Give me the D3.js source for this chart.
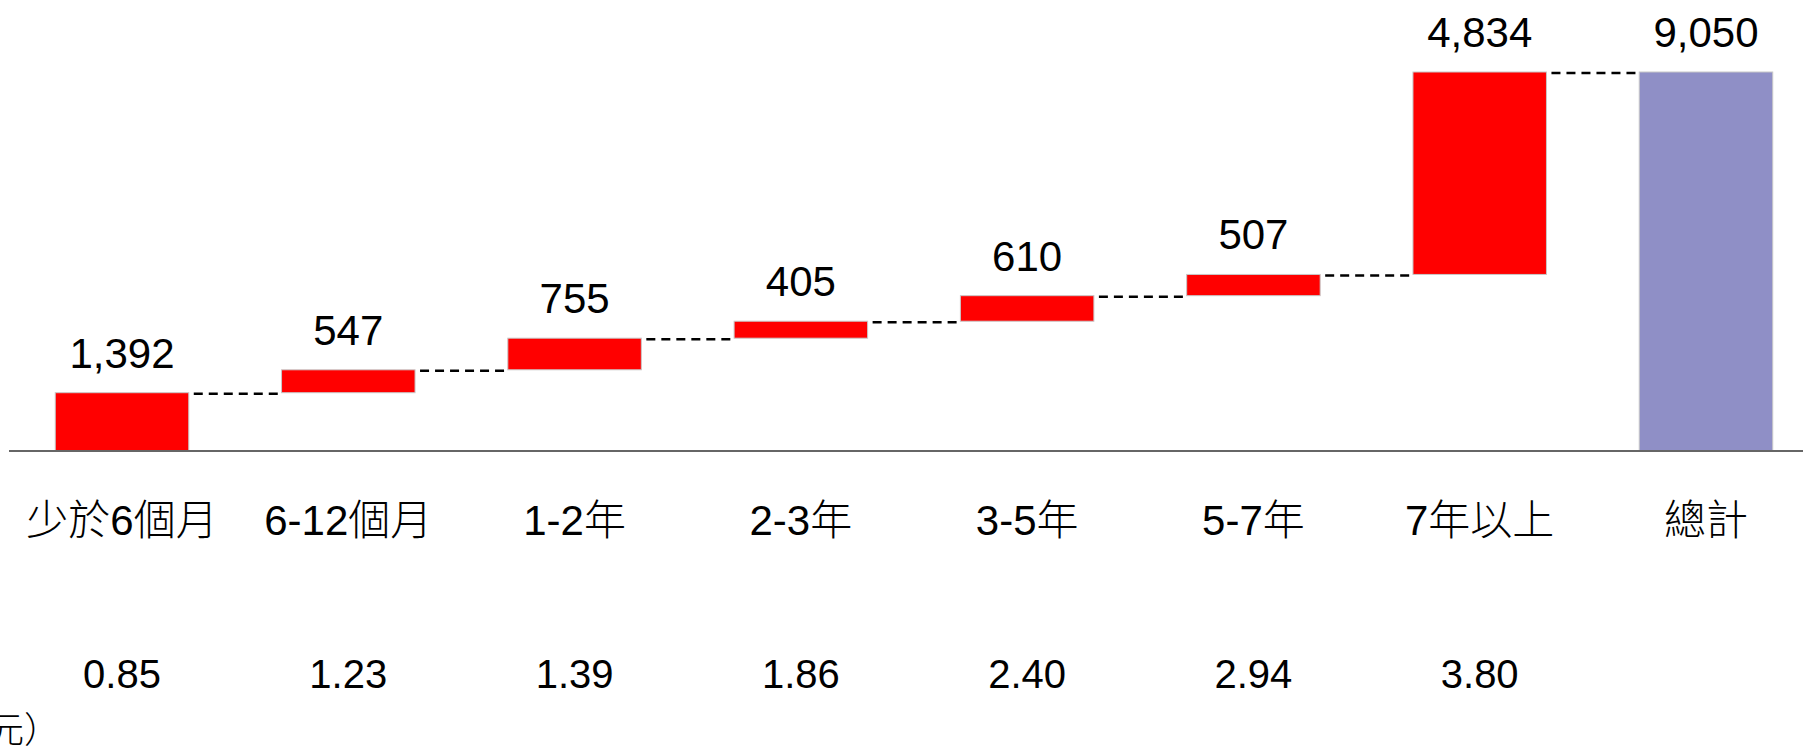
<!DOCTYPE html>
<meta charset="utf-8" />
<script src="https://d3js.org/d3.v7.min.js"></script>
<style>
  body { margin: 0; background: white; }
  svg text { font-family: "Liberation Sans", Arial, "Noto Sans CJK TC", sans-serif; }
</style>
<div id="chart_div"></div>
<script>
  // data
  const categories = ["少於6個月", "6-12個月", "1-2年", "2-3年", "3-5年", "5-7年", "7年以上", "總計"];
  const values = [1392, 547, 755, 405, 610, 507, 4834];
  const total = 9050;
  const lowerRow = ["0.85", "1.23", "1.39", "1.86", "2.40", "2.94", "3.80", ""];
  const unitText = "元）";

  const width = 1803;
  const height = 748;

  const svg = d3
    .select("#chart_div")
    .append("svg")
    .attr("width", width)
    .attr("height", height);

  // build waterfall steps
  var steps = [];
  var run = 0;
  values.forEach(function (v, i) {
    steps.push({ cat: categories[i], start: run, end: run + v, value: v, total: false });
    run += v;
  });
  steps.push({ cat: categories[7], start: 0, end: total, value: total, total: true });

  const x = d3
    .scaleBand()
    .domain(categories)
    .range([10, 1818])
    .paddingInner(0.41)
    .paddingOuter(0.2);

  const y = d3.scaleLinear().domain([0, total]).range([451, 72]);

  const fmt = d3.format(",");

  // connectors
  svg
    .append("g")
    .selectAll("line")
    .data(steps.slice(0, -1))
    .enter()
    .append("line")
    .attr("x1", (d) => x(d.cat) + x.bandwidth() + 5)
    .attr("x2", (d, i) => x(steps[i + 1].cat) - 2)
    .attr("y1", (d) => y(d.end) + 1)
    .attr("y2", (d) => y(d.end) + 1)
    .attr("stroke", "black")
    .attr("stroke-width", 2.5)
    .attr("stroke-dasharray", "9,6");

  // bars
  svg
    .append("g")
    .selectAll("rect")
    .data(steps)
    .enter()
    .append("rect")
    .attr("x", (d) => x(d.cat))
    .attr("width", x.bandwidth())
    .attr("y", (d) => y(d.end))
    .attr("height", (d) => y(d.start) - y(d.end))
    .attr("fill", (d) => (d.total ? "#8f8fc6" : "#ff0000"))
    .attr("stroke", "#c8c8c8")
    .attr("stroke-width", 1);

  // baseline
  svg
    .append("line")
    .attr("x1", 9)
    .attr("x2", width)
    .attr("y1", y(0))
    .attr("y2", y(0))
    .attr("stroke", "#666")
    .attr("stroke-width", 2);

  // value labels
  svg
    .append("g")
    .selectAll("text")
    .data(steps)
    .enter()
    .append("text")
    .attr("text-anchor", "middle")
    .attr("x", (d) => x(d.cat) + x.bandwidth() / 2)
    .attr("y", (d) => y(d.end) - 25)
    .style("font-size", "42px")
    .style("fill", "black")
    .text((d) => fmt(d.value));

  // category labels
  svg
    .append("g")
    .selectAll("text")
    .data(categories)
    .enter()
    .append("text")
    .attr("text-anchor", "middle")
    .attr("x", (d) => x(d) + x.bandwidth() / 2)
    .attr("y", 535)
    .style("font-size", "42px")
    .style("font-weight", 300)
    .style("fill", "black")
    .text((d) => d);

  // lower row
  svg
    .append("g")
    .selectAll("text")
    .data(lowerRow)
    .enter()
    .append("text")
    .attr("text-anchor", "middle")
    .attr("x", (d, i) => x(categories[i]) + x.bandwidth() / 2)
    .attr("y", 688)
    .style("font-size", "40px")
    .style("fill", "black")
    .text((d) => d);

  // unit note, cut by the left edge as in the source
  svg
    .append("text")
    .attr("x", -12)
    .attr("y", 743)
    .style("font-size", "36px")
    .style("font-weight", 300)
    .style("fill", "black")
    .text(unitText);
</script>
